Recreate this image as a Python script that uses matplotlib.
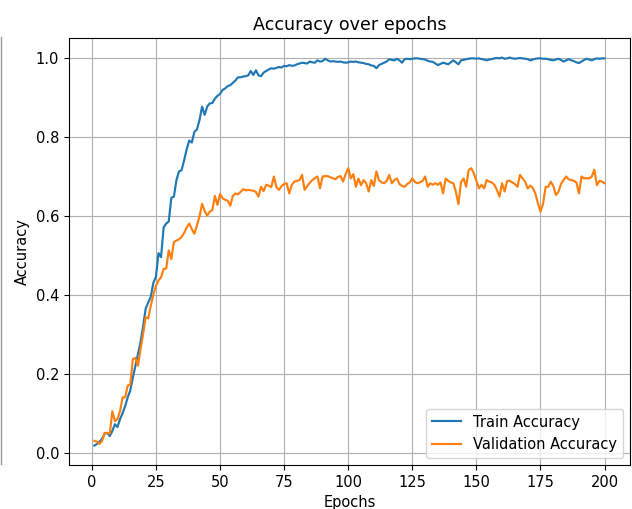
import matplotlib
matplotlib.use("Agg")
import matplotlib.pyplot as plt
from matplotlib.lines import Line2D

# accuracy per epoch
train_acc = [
    0.018, 0.022, 0.028, 0.035, 0.048, 0.050, 0.042, 0.055, 0.072, 0.065,
    0.085, 0.100, 0.118, 0.140, 0.158, 0.190, 0.220, 0.250, 0.280, 0.320,
    0.365, 0.380, 0.395, 0.430, 0.445, 0.505, 0.495, 0.570, 0.580, 0.585,
    0.645, 0.648, 0.690, 0.712, 0.715, 0.740, 0.768, 0.790, 0.785, 0.812,
    0.818, 0.842, 0.876, 0.855, 0.876, 0.884, 0.885, 0.896, 0.903, 0.908,
    0.918, 0.922, 0.928, 0.930, 0.936, 0.942, 0.950, 0.950, 0.952, 0.953,
    0.955, 0.966, 0.956, 0.968, 0.955, 0.953, 0.962, 0.966, 0.970, 0.973,
    0.972, 0.974, 0.976, 0.975, 0.979, 0.978, 0.981, 0.979, 0.980, 0.983,
    0.985, 0.987, 0.986, 0.985, 0.990, 0.988, 0.987, 0.993, 0.990, 0.991,
    0.997, 0.993, 0.990, 0.991, 0.990, 0.989, 0.990, 0.988, 0.987, 0.988,
    0.990, 0.989, 0.990, 0.988, 0.987, 0.986, 0.984, 0.983, 0.980, 0.979,
    0.973, 0.981, 0.984, 0.987, 0.990, 0.996, 0.994, 0.993, 0.997, 0.993,
    0.987, 0.996, 0.997, 0.996, 0.997, 0.998, 0.998, 0.997, 0.996, 0.995,
    0.992, 0.990, 0.989, 0.985, 0.981, 0.984, 0.987, 0.985, 0.983, 0.988,
    0.993, 0.988, 0.983, 0.993, 0.994, 0.996, 0.997, 0.998, 0.998, 0.997,
    0.998, 0.996, 0.995, 0.993, 0.995, 0.996, 0.998, 0.999, 0.998, 1.000,
    0.997, 0.998, 1.000, 0.998, 0.997, 0.998, 0.999, 0.998, 0.997, 0.996,
    0.993, 0.995, 0.997, 0.998, 0.998, 0.997, 0.997, 0.996, 0.994, 0.993,
    0.995, 0.997, 0.994, 0.990, 0.993, 0.996, 0.993, 0.991, 0.988, 0.986,
    0.990, 0.994, 0.997, 0.995, 0.993, 0.996, 0.998, 0.997, 0.998, 0.998,
]
val_acc = [
    0.030, 0.028, 0.022, 0.030, 0.050, 0.050, 0.048, 0.105, 0.080, 0.085,
    0.105, 0.140, 0.140, 0.170, 0.172, 0.237, 0.240, 0.220, 0.262, 0.300,
    0.343, 0.340, 0.372, 0.400, 0.422, 0.436, 0.444, 0.465, 0.466, 0.512,
    0.490, 0.533, 0.537, 0.540, 0.546, 0.556, 0.570, 0.580, 0.566, 0.554,
    0.575, 0.598, 0.630, 0.612, 0.600, 0.610, 0.614, 0.650, 0.627, 0.655,
    0.644, 0.640, 0.638, 0.625, 0.650, 0.656, 0.654, 0.660, 0.667, 0.664,
    0.665, 0.664, 0.663, 0.660, 0.648, 0.673, 0.662, 0.678, 0.676, 0.672,
    0.699, 0.672, 0.665, 0.675, 0.680, 0.682, 0.656, 0.678, 0.686, 0.688,
    0.690, 0.703, 0.665, 0.675, 0.683, 0.690, 0.695, 0.699, 0.669, 0.699,
    0.700, 0.700, 0.697, 0.695, 0.692, 0.698, 0.700, 0.686, 0.705, 0.720,
    0.694, 0.705, 0.673, 0.694, 0.677, 0.690, 0.682, 0.661, 0.690, 0.675,
    0.712, 0.690, 0.684, 0.682, 0.688, 0.703, 0.682, 0.690, 0.694, 0.680,
    0.675, 0.673, 0.680, 0.684, 0.694, 0.685, 0.682, 0.684, 0.688, 0.699,
    0.673, 0.682, 0.678, 0.682, 0.678, 0.684, 0.656, 0.694, 0.688, 0.684,
    0.682, 0.660, 0.629, 0.685, 0.694, 0.673, 0.716, 0.720, 0.707, 0.688,
    0.669, 0.678, 0.669, 0.690, 0.686, 0.684, 0.678, 0.665, 0.648, 0.682,
    0.661, 0.688, 0.688, 0.684, 0.680, 0.673, 0.703, 0.694, 0.686, 0.669,
    0.676, 0.670, 0.656, 0.631, 0.610, 0.630, 0.673, 0.673, 0.686, 0.675,
    0.652, 0.660, 0.680, 0.690, 0.699, 0.692, 0.690, 0.688, 0.684, 0.656,
    0.699, 0.694, 0.695, 0.694, 0.699, 0.716, 0.677, 0.688, 0.686, 0.682,
]
epochs = list(range(1, len(train_acc) + 1))

# the reference looks rendered ~5% larger than a stock 100 dpi figure
plt.rcParams['font.size'] = 10.5
plt.rcParams['lines.linewidth'] = 1.55

fig = plt.figure(figsize=(6.32, 5.09), dpi=100)
ax = fig.add_axes([0.109, 0.0865, 0.888, 0.8385])

ax.plot(epochs, train_acc, label='Train Accuracy')
ax.plot(epochs, val_acc, label='Validation Accuracy')
ax.set_title('Accuracy over epochs', fontsize=12.6)
ax.set_xlabel('Epochs')
ax.set_ylabel('Accuracy')
ax.legend(loc='lower right')
ax.grid(True)

# grey edge left over at the far left of the screenshot
fig.add_artist(Line2D([0.001, 0.001], [1 - 37 / 509, 1 - 464 / 509],
                      transform=fig.transFigure, color='#999999', lw=1))

fig.savefig('out.png', dpi=100)
